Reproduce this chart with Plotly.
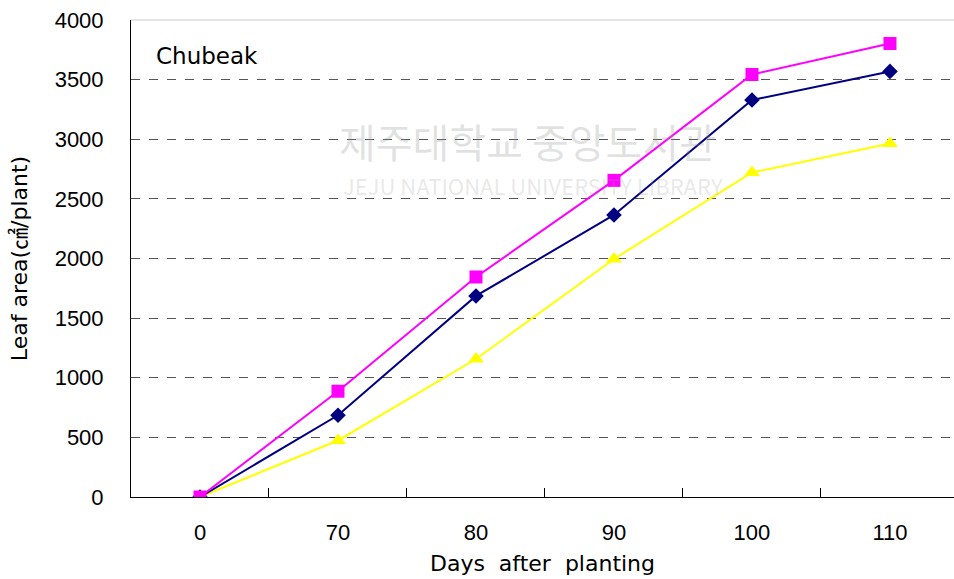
import plotly.graph_objects as go

# Days after planting (category labels)
days = ["0", "70", "80", "90", "100", "110"]

# Leaf area (cm²/plant) for the three treatments
series_magenta = [0, 887, 1845, 2655, 3543, 3803]
series_navy = [0, 685, 1686, 2365, 3329, 3569]
series_yellow = [0, 474, 1157, 1996, 2721, 2965]

y_ticks = [0, 500, 1000, 1500, 2000, 2500, 3000, 3500, 4000]

NUM_FONT = "Liberation Sans, Arial, sans-serif"
TXT_FONT = "DejaVu Sans, Noto Sans CJK KR, sans-serif"
KR_FONT = "Noto Sans CJK KR, sans-serif"

fig = go.Figure()

fig.add_trace(go.Scatter(
    x=days, y=series_yellow, mode="lines+markers",
    line=dict(color="#FFFF00", width=2),
    marker=dict(symbol="triangle-up", size=14, color="#FFFF00"),
    showlegend=False,
))
fig.add_trace(go.Scatter(
    x=days, y=series_navy, mode="lines+markers",
    line=dict(color="#000080", width=2),
    marker=dict(symbol="diamond", size=12, color="#000080"),
    showlegend=False,
))
fig.add_trace(go.Scatter(
    x=days, y=series_magenta, mode="lines+markers",
    line=dict(color="#FF00FF", width=2),
    marker=dict(symbol="square", size=13, color="#FF00FF"),
    showlegend=False,
))

fig.update_layout(
    width=954, height=579,
    margin=dict(l=131, r=0, t=20, b=82),
    paper_bgcolor="white", plot_bgcolor="white",
    font=dict(family=NUM_FONT, size=22, color="black"),
    xaxis=dict(
        type="category",
        range=[-0.5, 5.464],
        tickson="boundaries",
        ticks="inside", ticklen=9, tickcolor="black", tickwidth=1,
        showline=True, linecolor="black", linewidth=1,
        showgrid=False, zeroline=False,
        ticklabelstandoff=16,
        tickfont=dict(size=22, family=NUM_FONT),
        title=dict(text="Days  after  planting", font=dict(size=22, family=TXT_FONT), standoff=11),
    ),
    yaxis=dict(
        range=[0, 4000],
        tickvals=y_ticks,
        ticks="",
        showline=True, linecolor="black", linewidth=1,
        showgrid=True, gridcolor="#555555", griddash="dash", gridwidth=1,
        zeroline=False,
        ticklabelstandoff=22,
        tickfont=dict(size=22, family=NUM_FONT),
        title=dict(text="Leaf area(㎠/plant)", font=dict(size=22, family=TXT_FONT), standoff=20),
    ),
    shapes=[dict(type="line", xref="paper", yref="paper", x0=0, x1=1, y0=1, y1=1,
                 line=dict(color="#cccccc", width=1))],
    annotations=[
        dict(text="Chubeak", xref="paper", yref="paper", x=0.028, y=0.925,
             xanchor="left", yanchor="middle", showarrow=False,
             font=dict(size=23, family=TXT_FONT)),
        dict(text="제주대학교 중앙도서관", xref="paper", yref="paper", x=0.482, y=0.747,
             xanchor="center", yanchor="middle", showarrow=False,
             font=dict(size=40, family=KR_FONT, color="rgba(150,150,150,0.28)")),
        dict(text="JEJU NATIONAL UNIVERSITY LIBRARY", xref="paper", yref="paper", x=0.489, y=0.654,
             xanchor="center", yanchor="middle", showarrow=False,
             font=dict(size=22, family=KR_FONT, color="rgba(150,150,150,0.22)")),
    ],
)

fig.write_html("out.html")
